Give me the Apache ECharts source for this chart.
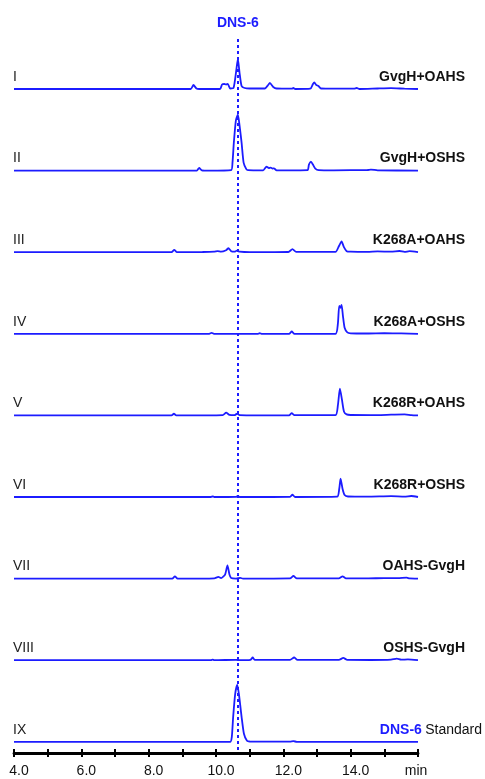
<!DOCTYPE html>
<html><head><meta charset="utf-8">
<script src="https://cdn.jsdelivr.net/npm/echarts@6/dist/echarts.min.js"></script>
<style>html,body{margin:0;padding:0;background:#fff}#c{width:485px;height:779px}</style>
</head><body><div id="c"></div>
<script>
// ---- data ----
const traceLabels = ['I','II','III','IV','V','VI','VII','VIII','IX'];
const sampleNames = ['GvgH+OAHS','GvgH+OSHS','K268A+OAHS','K268A+OSHS','K268R+OAHS','K268R+OSHS','OAHS-GvgH','OSHS-GvgH','Standard'];
const standardName = 'DNS-6';
const dnsTime = 10.65;
const xTickLabels = ['4.0','6.0','8.0','10.0','12.0','14.0','min'];

const tI  = [4.0,9.25,9.33,9.42,9.5,10.12,10.18,10.25,10.3,10.35,10.42,10.52,10.6,10.65,10.7,10.76,10.85,11.0,11.45,11.55,11.6,11.7,11.8,12.25,12.3,12.35,12.8,12.88,12.92,12.98,13.04,13.12,13.5,14.1,14.18,14.26,14.8,15.2,15.6,16.0];
const vI  = [0,0,4,0.5,0,0,4.5,5,4.5,5,0.5,1,18,30,16,3,1,0.5,0.5,4,6,2,0.5,0.3,1,0,0.3,5,6.5,4,3,0.5,0.3,0.3,1,0,0.5,0.8,0.3,0];

const tII = [4.0,9.43,9.5,9.58,9.8,10.45,10.49,10.53,10.59,10.65,10.7,10.76,10.82,10.9,10.95,11.4,11.5,11.57,11.62,11.68,11.72,11.8,12.1,12.72,12.76,12.82,12.88,12.95,13.05,13.5,14.5,14.6,14.8,16.0];
const vII = [0,0,2.7,0.3,0,0.5,8,28,50,56,45,28,8,1.5,0.5,0.3,4,2.5,3,2,2.3,0.3,0.3,0.5,6,9,6,2,0.5,0.3,0.6,1,0.3,0];

const tIII = [4.0,8.68,8.76,8.84,9.6,9.95,10.05,10.15,10.3,10.37,10.45,10.55,10.62,10.7,11.0,12.15,12.27,12.38,13.55,13.65,13.73,13.8,13.88,14.0,14.5,14.8,15.2,15.45,15.6,15.75,16.0];
const vIII = [0,0,2.4,0,0.2,0.5,1,0.5,2,4,1,0.5,1.5,0.5,0,0.2,3,0.3,0.3,6,10.7,5,1,0.5,0.3,0.8,0.5,1.2,0.3,1,0];

const tIV = [4.0,9.8,9.87,9.94,11.25,11.3,11.35,12.17,12.25,12.33,13.55,13.62,13.66,13.7,13.73,13.77,13.82,13.9,14.0,14.5,15.0,15.5,16.0];
const vIV = [0,0,1,0,0,0.7,0,0,2.3,0,0,10,28,26,29,18,6,1.5,0.5,0.3,0.6,0.4,0];

const tV = [4.0,8.68,8.75,8.82,10.2,10.3,10.4,10.55,10.63,10.7,12.17,12.25,12.33,13.55,13.62,13.68,13.74,13.8,13.88,14.0,14.6,15.2,15.6,15.8,16.0];
const vV = [0,0,1.7,0,0.3,2.7,0.5,0.3,1.7,0.3,0,2.3,0.2,0.3,10,26.7,16,4,1,0.4,0.3,0.7,1,0.3,0];

const tVI = [4.0,9.85,9.9,9.95,10.6,10.65,10.7,12.2,12.27,12.35,13.6,13.66,13.7,13.76,13.82,13.92,14.5,15.2,15.6,15.8,16.0];
const vVI = [0,0,0.7,0,0.2,1,0,0.2,2.3,0,0.3,8,18.3,8,2,0.5,0.3,0.8,0.4,1,0];

const tVII = [4.0,8.7,8.78,8.86,9.95,10.07,10.15,10.27,10.34,10.4,10.45,10.6,10.72,10.8,12.2,12.3,12.4,13.65,13.76,13.86,14.5,15.0,15.4,15.66,15.75,16.0];
const vVII = [0,0,2.3,0,0.3,1.7,0.5,4,13.3,4,0.5,0,0.7,0,0.2,2.7,0.2,0.3,2.3,0.3,0.2,0.5,0.4,1,0.2,0];

const tVIII = [4.0,9.85,9.9,9.95,10.6,10.7,11.02,11.09,11.15,12.2,12.32,12.42,13.65,13.78,13.9,14.6,15.2,15.37,15.5,15.7,16.0];
const vVIII = [0,0,0.5,0,0.4,0,0.3,2.7,0.3,0.3,2.7,0.3,0.3,2.3,0.3,0.2,0.5,1.5,0.5,0.8,0];

const tIX = [4.0,10.42,10.47,10.51,10.57,10.63,10.68,10.76,10.83,10.92,11.0,12.2,12.3,12.4,16.0];
const vIX = [0,0,5,25,48,57,48,25,8,1,0.3,0.2,0.6,0,0];

const traceTimes = [tI,tII,tIII,tIV,tV,tVI,tVII,tVIII,tIX];
const traceValues = [vI,vII,vIII,vIV,vV,vVI,vVII,vVIII,vIX];

// ---- layout / style ----
const H = 753;            // grid height in px (y axis spans 0..H)
const firstBase = 89;     // px of first baseline
const step = 81.6;        // px between traces
const blue = '#1c1cff';
const font = 'Arial, "Liberation Sans", sans-serif';

const chart = echarts.init(document.getElementById('c'), null, {renderer:'canvas'});

const series = traceTimes.map((ts, k) => {
  const off = H - (firstBase + step * k);
  return {
    type: 'line', symbol: 'none', silent: true, animation: false,
    smooth: 0.2,
    lineStyle: {color: blue, width: 1.8},
    data: ts.map((t, i) => [t, traceValues[k][i] + off])
  };
});
series[0].markLine = {
  silent: true, symbol: ['none','none'], animation: false,
  lineStyle: {color: blue, width: 2, type: [3,3]},
  label: {show: true, position: 'end', formatter: standardName, color: blue,
          fontWeight: 'bold', fontSize: 14, fontFamily: font, distance: 6},
  data: [[{coord: [dnsTime, 3]}, {coord: [dnsTime, H - 36]}]]
};

const labelMap = {4:0,6:1,8:2,10:3,12:4,14:5,16:6};
chart.setOption({
  backgroundColor: '#fff',
  animation: false,
  grid: {left: 14, right: 67, top: 0, bottom: 26, containLabel: false},
  xAxis: [{
    type: 'value', min: 4, max: 16, interval: 1, position: 'bottom', offset: 0,
    axisLine: {onZero: false, lineStyle: {color: '#000', width: 2.8}},
    axisTick: {length: 4, lineStyle: {color: '#000', width: 2}},
    splitLine: {show: false},
    axisLabel: {
      showMinLabel: true, showMaxLabel: true, margin: 11,
      fontSize: 14, fontFamily: font, color: '#111',
      formatter: v => {
        const idx = labelMap[v];
        if (idx === undefined) return '';
        return idx === 6 ? '{m|' + xTickLabels[idx] + '}' : '{a|' + xTickLabels[idx] + '}';
      },
      rich: {
        a: {fontSize: 14, fontFamily: font, color: '#111', padding: [0,0,0,10]},
        m: {fontSize: 14, fontFamily: font, color: '#111', padding: [0,4,0,0]}
      }
    }
  },{
    type: 'value', min: 4, max: 16, interval: 1, position: 'bottom', offset: 0,
    axisLine: {show: false, onZero: false},
    axisTick: {inside: true, length: 4, lineStyle: {color: '#000', width: 2}},
    axisLabel: {show: false}, splitLine: {show: false}
  }],
  yAxis: {type: 'value', min: 0, max: H, show: false, splitLine: {show: false}},
  series: series
});

// text labels placed via the chart's scale
const g = [];
traceLabels.forEach((lab, k) => {
  const off = H - (firstBase + step * k);
  const p = chart.convertToPixel({gridIndex: 0}, [4, off]);
  g.push({type: 'text', x: 13, y: p[1] - 12, silent: true,
    style: {text: lab, fontSize: 14, fontFamily: font, fill: '#222', verticalAlign: 'middle', align: 'left'}});
  if (k < traceLabels.length - 1) {
    g.push({type: 'text', x: 465, y: p[1] - 12, silent: true,
      style: {text: sampleNames[k], fontSize: 14, fontWeight: 'bold', fontFamily: font, fill: '#111', verticalAlign: 'middle', align: 'right'}});
  } else {
    g.push({type: 'text', x: 482, y: p[1] - 12, silent: true,
      style: {text: '{b|' + standardName + '} {n|' + sampleNames[k] + '}', align: 'right', verticalAlign: 'middle',
        rich: {b: {fontSize: 14, fontWeight: 'bold', fontFamily: font, fill: blue, color: blue},
               n: {fontSize: 14, fontFamily: font, fill: '#111', color: '#111'}}}});
  }
});
chart.setOption({graphic: g});
</script></body></html>
